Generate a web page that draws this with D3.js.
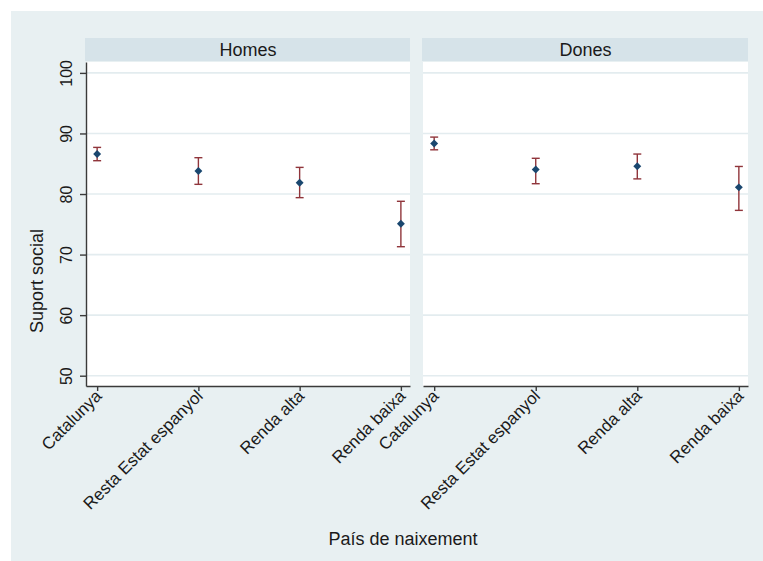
<!DOCTYPE html>
<html>
<head>
<meta charset="utf-8">
<script src="https://cdn.jsdelivr.net/npm/d3@7"></script>
<style>
  html, body { margin: 0; padding: 0; background: #ffffff; }
  svg text { font-family: "Liberation Sans", Arial, sans-serif; fill: #1a1a1a; }
</style>
</head>
<body>
<svg id="chart" width="763" height="561"></svg>
<script>
const categories = ["Catalunya", "Resta Estat espanyol", "Renda alta", "Renda baixa"];
const panels = ["Homes", "Dones"];
const homesMean = [86.6, 83.8, 81.85, 75.1];
const homesLo   = [85.5, 81.6, 79.4, 71.3];
const homesHi   = [87.7, 86.0, 84.4, 78.8];
const donesMean = [88.35, 84.05, 84.6, 81.1];
const donesLo   = [87.3, 81.7, 82.5, 77.3];
const donesHi   = [89.4, 85.9, 86.6, 84.55];
const yTicks = [50, 60, 70, 80, 90, 100];
const yTitle = "Suport social";
const xTitle = "País de naixement";

const seriesByPanel = {
  Homes: categories.map((c, i) => ({ cat: c, idx: i + 1, mean: homesMean[i], lo: homesLo[i], hi: homesHi[i] })),
  Dones: categories.map((c, i) => ({ cat: c, idx: i + 1, mean: donesMean[i], lo: donesLo[i], hi: donesHi[i] }))
};

const svg = d3.select("#chart");
const bg = "#e8f0f2", strip = "#d6e3e9", grid = "#e3ecef";
const navy = "#1a476f", maroon = "#90353b", axisCol = "#3a3a3a";

svg.append("rect").attr("x", 11).attr("y", 11).attr("width", 763 - 11).attr("height", 561 - 11).attr("fill", bg);

const plotTop = 62, plotBottom = 386;
const y = d3.scaleLinear().domain([48.3, 101.8]).range([plotBottom, plotTop]);
const panelX = { Homes: [86, 410], Dones: [423, 748] };

panels.forEach((p, pi) => {
  const [x0, x1] = panelX[p];
  const x = d3.scaleLinear().domain([0.89, 4.09]).range([x0, x1]);
  const g = svg.append("g");

  // strip
  g.append("rect").attr("x", x0 - 1).attr("y", 38).attr("width", x1 - x0 + 1).attr("height", 23).attr("fill", strip);
  g.append("text").attr("x", (x0 + x1) / 2).attr("y", 55.5).attr("text-anchor", "middle")
    .attr("font-size", 18).text(p);

  // plot area
  g.append("rect").attr("x", x0).attr("y", plotTop).attr("width", x1 - x0).attr("height", plotBottom - plotTop).attr("fill", "#ffffff");

  // gridlines
  g.selectAll("line.grid").data(yTicks).enter().append("line")
    .attr("x1", x0).attr("x2", x1)
    .attr("y1", d => y(d)).attr("y2", d => y(d))
    .attr("stroke", grid).attr("stroke-width", 1.6);

  // x axis
  const xAxis = d3.axisBottom(x).tickValues(categories.map((c, i) => i + 1))
    .tickFormat(d => categories[d - 1]).tickSize(5).tickSizeOuter(0).tickPadding(3);
  const xg = g.append("g").attr("transform", `translate(0,${plotBottom})`).call(xAxis);
  xg.select(".domain").attr("stroke", axisCol).attr("stroke-width", 1.4);
  xg.selectAll(".tick line").attr("stroke", axisCol).attr("stroke-width", 1.4);
  xg.selectAll(".tick text")
    .attr("font-size", 17)
    .attr("text-anchor", "end")
    .attr("dy", null)
    .attr("y", 0)
    .attr("transform", "translate(5,11) rotate(-45)");

  // y axis (only left panel)
  if (pi === 0) {
    const yAxis = d3.axisLeft(y).tickValues(yTicks).tickSize(6).tickSizeOuter(0).tickPadding(0);
    const yg = g.append("g").attr("transform", `translate(${x0},0)`).call(yAxis);
    yg.select(".domain").attr("stroke", axisCol).attr("stroke-width", 1.4);
    yg.selectAll(".tick line").attr("stroke", axisCol).attr("stroke-width", 1.4);
    yg.selectAll(".tick text")
      .attr("font-size", 16)
      .attr("text-anchor", "middle")
      .attr("x", null).attr("dy", null)
      .attr("transform", "translate(-14,0) rotate(-90)");
  }

  const data = seriesByPanel[p];
  // CI bars
  g.selectAll("line.ci").data(data).enter().append("line")
    .attr("x1", d => x(d.idx)).attr("x2", d => x(d.idx))
    .attr("y1", d => y(d.lo)).attr("y2", d => y(d.hi))
    .attr("stroke", maroon).attr("stroke-width", 1.4);
  ["lo", "hi"].forEach(k => {
    g.selectAll("line.cap" + k).data(data).enter().append("line")
      .attr("x1", d => x(d.idx) - 4).attr("x2", d => x(d.idx) + 4)
      .attr("y1", d => y(d[k])).attr("y2", d => y(d[k]))
      .attr("stroke", maroon).attr("stroke-width", 1.4);
  });
  // markers
  g.selectAll("path.pt").data(data).enter().append("path")
    .attr("d", d3.symbol().type(d3.symbolDiamond2).size(40))
    .attr("transform", d => `translate(${x(d.idx)},${y(d.mean)})`)
    .attr("fill", navy);
});

// axis titles
svg.append("text").attr("transform", "translate(43,281) rotate(-90)").attr("text-anchor", "middle")
  .attr("font-size", 18).text(yTitle);
svg.append("text").attr("x", 403).attr("y", 545).attr("text-anchor", "middle")
  .attr("font-size", 18).text(xTitle);
</script>
</body>
</html>
